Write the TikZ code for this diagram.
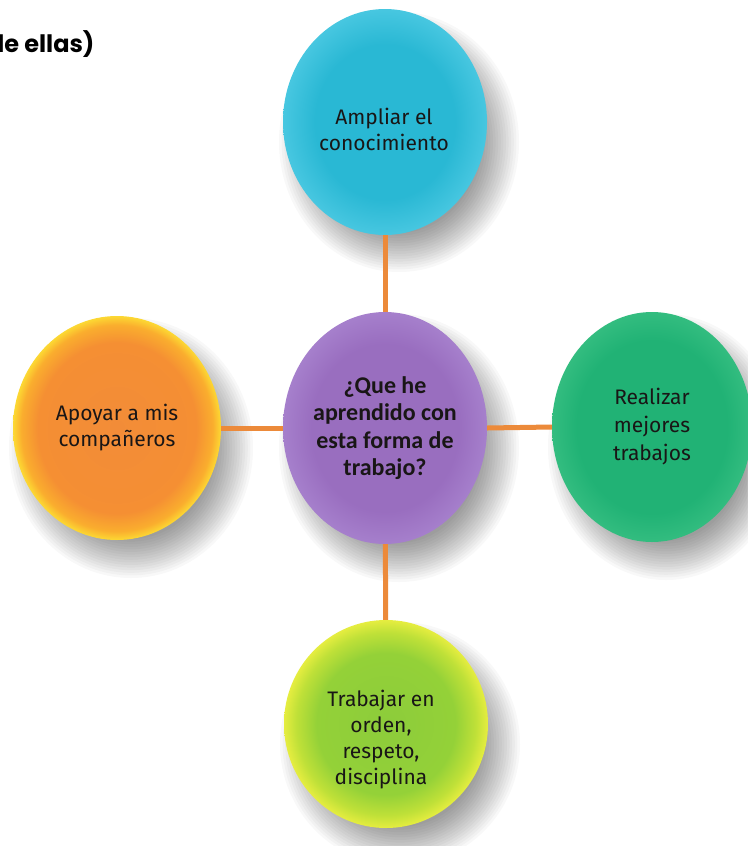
\documentclass[tikz,border=0pt]{standalone}
\usepackage{fontspec}
\setmainfont{Fira Sans}
\newfontfamily\centerfont{Carlito}
\newfontfamily\titlefont{Poppins}
\usetikzlibrary{shapes.geometric}
\definecolor{linkorange}{RGB}{236,138,58}
\definecolor{textdark}{RGB}{25,22,22}
\pgfdeclareradialshading{cyanball}{\pgfpoint{0bp}{0bp}}{rgb(0bp)=(0.16,0.72,0.83); rgb(17bp)=(0.16,0.72,0.83); rgb(25bp)=(0.28,0.78,0.88); rgb(50bp)=(0.28,0.78,0.88)}
\pgfdeclareradialshading{purpleball}{\pgfpoint{0bp}{0bp}}{rgb(0bp)=(0.60,0.43,0.75); rgb(18bp)=(0.60,0.43,0.75); rgb(25bp)=(0.65,0.50,0.80); rgb(50bp)=(0.65,0.50,0.80)}
\pgfdeclareradialshading{orangeball}{\pgfpoint{0bp}{0bp}}{rgb(0bp)=(0.95,0.55,0.22); rgb(19bp)=(0.96,0.56,0.20); rgb(23bp)=(0.98,0.68,0.18); rgb(25bp)=(0.99,0.85,0.20); rgb(50bp)=(0.99,0.85,0.20)}
\pgfdeclareradialshading{greenball}{\pgfpoint{0bp}{0bp}}{rgb(0bp)=(0.13,0.70,0.46); rgb(19bp)=(0.13,0.70,0.46); rgb(25bp)=(0.20,0.74,0.50); rgb(50bp)=(0.20,0.74,0.50)}
\pgfdeclareradialshading{limeball}{\pgfpoint{0bp}{0bp}}{rgb(0bp)=(0.55,0.80,0.23); rgb(17bp)=(0.58,0.82,0.22); rgb(22bp)=(0.75,0.88,0.22); rgb(25bp)=(0.90,0.93,0.25); rgb(50bp)=(0.90,0.93,0.25)}
\tikzset{
  bubble/.style={ellipse, inner sep=0pt, align=center, text=textdark,
    font=\fontsize{21}{26}\selectfont},
  bubbletext/.style={inner sep=0pt, align=center, text=textdark,
    font=\fontsize{21}{26}\selectfont},
  link/.style={draw=linkorange, line width=5pt},
}
\newcommand{\softshadow}[4]{%
  \foreach \k in {0,...,15}{%
    \fill[black, opacity=0.026] (#1+14,#2+20) ellipse [x radius={#3pt+20pt-2.6pt*\k}, y radius={#4pt+20pt-2.6pt*\k}];
  }%
}
\begin{document}
\begin{tikzpicture}[x=1pt, y=-1pt]
\useasboundingbox (0,0) rectangle (747,846);
\fill[white] (0,0) rectangle (747,846);
% shadows
\softshadow{385}{122}{100}{110}
\softshadow{385}{428}{100}{114}
\softshadow{117}{428}{102}{110}
\softshadow{652}{427}{98}{113}
\softshadow{386}{724}{100}{102}
% title fragment
\node[anchor=base west, inner sep=0pt, font=\titlefont\bfseries\fontsize{24}{28}\selectfont, text=black] (title) at (-12,52) {de ellas)};
% bubbles
\node[bubble, minimum width=204pt, minimum height=226pt, shading=cyanball] (top) at (385,122) {};
\node[bubbletext] (toptext) at (384,129) {Ampliar el\\conocimiento};
\node[bubble, minimum width=204pt, minimum height=232pt, shading=purpleball, font=\centerfont\bfseries\fontsize{24}{27.5}\selectfont] (center) at (385,428) {¿Que he\\aprendido con\\esta forma de\\trabajo?};
\node[bubble, minimum width=208pt, minimum height=224pt, shading=orangeball] (left) at (117,428) {Apoyar a mis\\compañeros};
\node[bubble, minimum width=200pt, minimum height=230pt, shading=greenball, font=\fontsize{21}{28}\selectfont] (right) at (652,427) {Realizar\\mejores\\trabajos};
\node[bubble, minimum width=204pt, minimum height=208pt, shading=limeball] (bottom) at (386,724) {};
\node[bubbletext] (bottomtext) at (381,740) {Trabajar en\\orden,\\respeto,\\disciplina};
% connectors
\draw[link] (center) -- (top);
\draw[link] (center.west) -- (left.east);
\draw[link] (center.east) -- (right.west);
\draw[link] (center) -- (bottom);
\end{tikzpicture}
\end{document}
